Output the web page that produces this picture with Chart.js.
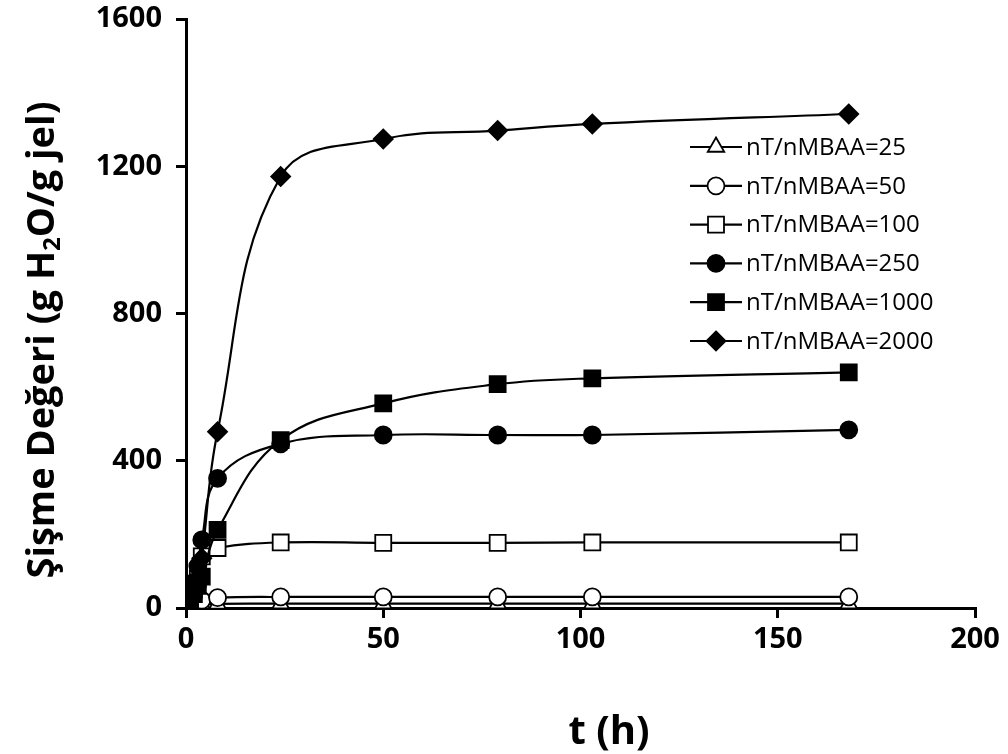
<!DOCTYPE html>
<html>
<head>
<meta charset="utf-8">
<script src="https://cdn.jsdelivr.net/npm/chart.js@4.4.0/dist/chart.umd.min.js"></script>
<style>
  html, body { margin: 0; padding: 0; background: #fff; }
  #wrap { width: 1008px; height: 754px; position: relative; }
</style>
</head>
<body>
<div id="wrap"><canvas id="swellChart" width="1008" height="754"></canvas></div>
<script>
// sampling times (h)
const times = [0, 0.5, 1, 2, 3, 4, 8, 24, 50, 79, 103, 168];

// swelling values (g H2O / g gel), one array per crosslinker ratio
const ratio25   = [0, 3, 5, 7, 9, 10, 11, 12, 12, 12, 12, 12];
const ratio50   = [0, 5, 8, 13, 17, 21, 28, 30, 30, 30, 30, 30];
const ratio100  = [0, 12, 25, 50, 80, 140, 163, 178, 177, 177, 178, 178];
const ratio250  = [0, 15, 30, 70, 114, 185, 352, 446, 470, 470, 470, 484];
const ratio1000 = [0, 8, 18, 38, 60, 85, 212, 456, 556, 608, 624, 640];
const ratio2000 = [0, 10, 22, 45, 75, 135, 479, 1172, 1274, 1297, 1315, 1342];

const seriesLabels = ['nT/nMBAA=25', 'nT/nMBAA=50', 'nT/nMBAA=100', 'nT/nMBAA=250', 'nT/nMBAA=1000', 'nT/nMBAA=2000'];
const xTicks = [0, 50, 100, 150, 200];
const yTicks = [0, 400, 800, 1200, 1600];

const markers = [
    { style: 'triangle', radius: 9.5, fill: '#ffffff' },
    { style: 'circle',   radius: 8.5, fill: '#ffffff' },
    { style: 'rect',     radius: 11.3, fill: '#ffffff' },
    { style: 'circle',   radius: 8.5, fill: '#000000' },
    { style: 'rect',     radius: 11.3, fill: '#000000' },
    { style: 'rectRot',  radius: 9.5, fill: '#000000' }
];

const allValues = [ratio25, ratio50, ratio100, ratio250, ratio1000, ratio2000];

function toPoints(vals) {
    return times.map((t, i) => ({ x: t, y: vals[i] }));
}

// draw in reverse so the small series stay on top near the axis
const datasets = allValues.map((vals, i) => ({
    label: seriesLabels[i],
    data: toPoints(vals),
    borderColor: '#000',
    borderWidth: 2.2,
    tension: 0.4,
    pointStyle: markers[i].style,
    pointRadius: markers[i].radius,
    pointBackgroundColor: markers[i].fill,
    pointBorderColor: '#000',
    pointBorderWidth: 1.8,
    order: 6 - i
}));

function marker(ctx, style, r, x, y, fill) {
    ctx.save();
    ctx.fillStyle = fill;
    ctx.strokeStyle = '#000';
    ctx.lineWidth = 1.8;
    ctx.beginPath();
    if (style === 'circle') {
        ctx.arc(x, y, r, 0, Math.PI * 2);
    } else if (style === 'rect') {
        const s = Math.SQRT1_2 * r;
        ctx.rect(x - s, y - s, 2 * s, 2 * s);
    } else if (style === 'rectRot') {
        ctx.moveTo(x, y - r); ctx.lineTo(x + r, y); ctx.lineTo(x, y + r); ctx.lineTo(x - r, y);
        ctx.closePath();
    } else if (style === 'triangle') {
        ctx.moveTo(x, y - r);
        ctx.lineTo(x + r * Math.sin(Math.PI / 3), y + r / 2);
        ctx.lineTo(x - r * Math.sin(Math.PI / 3), y + r / 2);
        ctx.closePath();
    }
    ctx.fill();
    ctx.stroke();
    ctx.restore();
}

const customLegend = {
    id: 'customLegend',
    afterDatasetsDraw(chart) {
        const ctx = chart.ctx;
        const x0 = 690, x1 = 742, top = 147, step = 38.8;
        seriesLabels.forEach((label, i) => {
            const y = top + i * step;
            ctx.save();
            ctx.strokeStyle = '#000';
            ctx.lineWidth = 2.2;
            ctx.beginPath();
            ctx.moveTo(x0, y); ctx.lineTo(x1, y);
            ctx.stroke();
            ctx.restore();
            marker(ctx, markers[i].style, markers[i].radius, (x0 + x1) / 2, y, markers[i].fill);
            ctx.save();
            ctx.fillStyle = '#000';
            ctx.font = '24px "Open Sans"';
            ctx.textBaseline = 'middle';
            ctx.fillText(label, x1 + 4, y + 1);
            ctx.restore();
        });
    }
};

const axisTitles = {
    id: 'axisTitles',
    afterDraw(chart) {
        const ctx = chart.ctx;
        ctx.save();
        ctx.fillStyle = '#000';
        ctx.font = 'bold 40px "Open Sans"';
        ctx.textAlign = 'center';
        ctx.textBaseline = 'middle';
        ctx.fillText('t (h)', 609, 733);
        ctx.restore();

        // y title with subscript 2
        const big = 'bold 38px "Open Sans"';
        const small = 'bold 24px "Open Sans"';
        const p1 = 'Şişme Değeri (g H', p2 = '2', p3 = 'O/g jel)';
        ctx.save();
        ctx.font = big;
        const w1 = ctx.measureText(p1).width, w3 = ctx.measureText(p3).width;
        ctx.font = small;
        const w2 = ctx.measureText(p2).width;
        const total = w1 + w2 + w3;
        ctx.translate(43, 340);
        ctx.rotate(-Math.PI / 2);
        ctx.fillStyle = '#000';
        ctx.textBaseline = 'middle';
        ctx.textAlign = 'left';
        let x = -total / 2;
        ctx.font = big; ctx.fillText(p1, x, 0); x += w1;
        ctx.font = small; ctx.fillText(p2, x, 10); x += w2;
        ctx.font = big; ctx.fillText(p3, x, 0);
        ctx.restore();
    }
};

const tickFont = { family: '"Open Sans"', size: 29, weight: 'bold' };

new Chart(document.getElementById('swellChart').getContext('2d'), {
    type: 'line',
    data: { datasets: datasets },
    options: {
        responsive: false,
        animation: false,
        layout: { padding: { left: 0, top: 19, right: 33, bottom: 0 } },
        plugins: { legend: { display: false }, tooltip: { enabled: false } },
        scales: {
            x: {
                type: 'linear', min: 0, max: 200,
                afterBuildTicks: (scale) => { scale.ticks = xTicks.map(v => ({ value: v })); },
                afterFit: (scale) => { scale.height = 146; scale.paddingLeft = 0; scale.paddingRight = 0; },
                ticks: { color: '#000', font: tickFont, padding: 4, maxRotation: 0, callback: (v) => String(v) },
                grid: { drawOnChartArea: false, drawTicks: true, tickLength: 10, color: '#000', lineWidth: 3 },
                border: { display: true, color: '#000', width: 3 }
            },
            y: {
                min: 0, max: 1600,
                afterBuildTicks: (scale) => { scale.ticks = yTicks.map(v => ({ value: v })); },
                afterFit: (scale) => { scale.width = 186; scale.paddingTop = 0; scale.paddingBottom = 0; },
                ticks: { color: '#000', font: tickFont, padding: 14, callback: (v) => String(v) },
                grid: { drawOnChartArea: false, drawTicks: true, tickLength: 10, color: '#000', lineWidth: 3 },
                border: { display: true, color: '#000', width: 3 }
            }
        }
    },
    plugins: [customLegend, axisTitles]
});
</script>
</body>
</html>
